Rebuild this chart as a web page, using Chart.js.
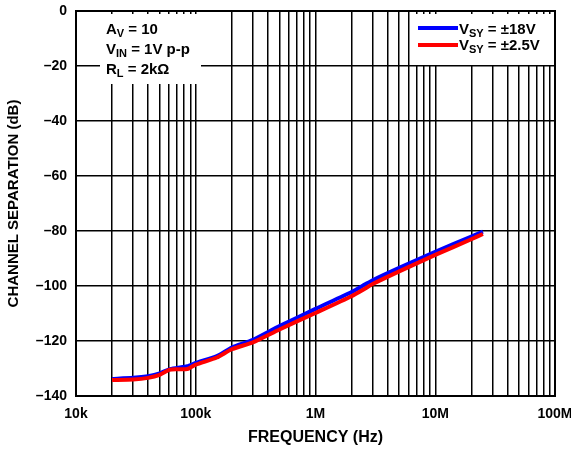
<!DOCTYPE html>
<html>
<head>
<meta charset="utf-8">
<script src="https://cdn.jsdelivr.net/npm/chart.js@4/dist/chart.umd.min.js"></script>
<style>
  html, body { margin: 0; padding: 0; background: #fff; }
  #wrap { width: 571px; height: 450px; }
</style>
</head>
<body>
<div id="wrap"><canvas id="chart" width="571" height="450"></canvas></div>
<script>
// frequencies (Hz)
const freqs = [20e3, 30e3, 40e3, 50e3, 60e3, 70e3, 85e3, 100e3, 150e3, 200e3, 300e3, 500e3, 1e6, 2e6, 2.6e6, 3e6, 5e6, 10e6, 20e6, 25e6];
const vsy18 = [-133.8, -133.4, -132.8, -131.8, -130.3, -129.8, -129.2, -128.0, -125.5, -122.4, -119.6, -114.6, -108.3, -102.2, -99.4, -97.9, -93.4, -87.6, -82.0, -80.2];
const vsy25 = [-134.2, -134.0, -133.4, -132.3, -130.5, -130.3, -130.2, -128.6, -126.0, -123.0, -120.5, -115.8, -109.8, -103.7, -100.9, -99.3, -94.7, -88.7, -83.0, -81.1];

const xTickValues = [1e4, 1e5, 1e6, 1e7, 1e8];
const xTickLabels = ['10k', '100k', '1M', '10M', '100M'];
const yTickValues = [0, -20, -40, -60, -80, -100, -120, -140];

const FONT = "'Liberation Sans', Arial, sans-serif";

// all minor log grid lines 1..9 in each decade
let xGrid = [];
for (let d = 1e4; d < 1e8; d *= 10) {
    for (let m = 1; m < 10; m++) xGrid.push(d * m);
}
xGrid.push(1e8);

function toPoints(ys) {
    return freqs.map((f, i) => ({ x: f, y: ys[i] }));
}

// draw text with a subscript part
function subText(c, x, y, main, sub, rest) {
    c.font = 'bold 15px ' + FONT;
    c.fillText(main, x, y);
    x += c.measureText(main).width;
    c.font = 'bold 11px ' + FONT;
    c.fillText(sub, x, y + 3);
    x += c.measureText(sub).width;
    c.font = 'bold 15px ' + FONT;
    c.fillText(rest, x, y);
}

const boxes = {
    id: 'boxes',
    beforeDatasetsDraw(chart) {
        const c = chart.ctx;
        const a = chart.chartArea;
        c.save();
        c.fillStyle = '#fff';
        c.fillRect(100, a.top + 3, 101, 70);   // conditions box
        c.fillRect(413, a.top + 3, 139, 51);   // legend box
        c.restore();
    },
    afterDraw(chart) {
        const c = chart.ctx;
        const a = chart.chartArea;
        c.save();
        // frame
        c.strokeStyle = '#000';
        c.lineWidth = 2;
        c.strokeRect(a.left, a.top, a.right - a.left, a.bottom - a.top);

        c.fillStyle = '#000';
        c.textBaseline = 'alphabetic';
        subText(c, 106, 34, 'A', 'V', ' = 10');
        subText(c, 106, 54, 'V', 'IN', ' = 1V p-p');
        subText(c, 106, 74, 'R', 'L', ' = 2kΩ');

        // legend
        c.lineWidth = 4;
        c.strokeStyle = '#0000ff';
        c.beginPath(); c.moveTo(418, 28); c.lineTo(458, 28); c.stroke();
        c.strokeStyle = '#ff0000';
        c.beginPath(); c.moveTo(418, 45); c.lineTo(458, 45); c.stroke();
        subText(c, 459, 34, 'V', 'SY', ' = ±18V');
        subText(c, 459, 50, 'V', 'SY', ' = ±2.5V');
        c.restore();
    }
};

const ctx = document.getElementById('chart').getContext('2d');

new Chart(ctx, {
    type: 'line',
    data: {
        datasets: [{
            label: 'VSY = ±18V',
            data: toPoints(vsy18),
            borderColor: '#0000ff',
            borderWidth: 4,
            pointRadius: 0,
            tension: 0.2,
            order: 2
        }, {
            label: 'VSY = ±2.5V',
            data: toPoints(vsy25),
            borderColor: '#ff0000',
            borderWidth: 4,
            pointRadius: 0,
            tension: 0.2,
            order: 1
        }]
    },
    options: {
        responsive: false,
        animation: false,
        layout: { padding: { left: 0, top: 11, right: 16, bottom: 0 } },
        plugins: {
            legend: { display: false },
            tooltip: { enabled: false }
        },
        scales: {
            x: {
                type: 'logarithmic',
                min: 1e4,
                max: 1e8,
                afterBuildTicks(scale) {
                    scale.ticks = xGrid.map(v => ({ value: v }));
                },
                afterFit(scale) {
                    scale.height = 54;
                    scale.paddingLeft = 0;
                    scale.paddingRight = 0;
                },
                grid: { color: '#000', lineWidth: 1.5, drawTicks: false, tickLength: 0 },
                border: { display: false },
                ticks: {
                    autoSkip: false,
                    maxRotation: 0,
                    padding: 10,
                    color: '#000',
                    font: { family: FONT, size: 14, weight: 'bold' },
                    callback(v) {
                        const i = xTickValues.indexOf(v);
                        return i >= 0 ? xTickLabels[i] : '';
                    }
                },
                title: {
                    display: true,
                    text: 'FREQUENCY (Hz)',
                    color: '#000',
                    font: { family: FONT, size: 16, weight: 'bold' },
                    padding: { top: 0, bottom: 3 }
                }
            },
            y: {
                min: -140,
                max: 0,
                afterBuildTicks(scale) {
                    scale.ticks = yTickValues.map(v => ({ value: v }));
                },
                afterFit(scale) {
                    scale.width = 76;
                    scale.paddingTop = 0;
                    scale.paddingBottom = 0;
                },
                grid: { color: '#000', lineWidth: 1.5, drawTicks: false, tickLength: 0 },
                border: { display: false },
                ticks: {
                    padding: 9,
                    color: '#000',
                    font: { family: FONT, size: 14, weight: 'bold' },
                    callback(v) { return v < 0 ? '–' + Math.abs(v) : String(v); }
                },
                title: {
                    display: true,
                    text: 'CHANNEL SEPARATION (dB)',
                    color: '#000',
                    font: { family: FONT, size: 15, weight: 'bold' },
                    padding: { top: 5, bottom: 0 }
                }
            }
        }
    },
    plugins: [boxes]
});
</script>
</body>
</html>
